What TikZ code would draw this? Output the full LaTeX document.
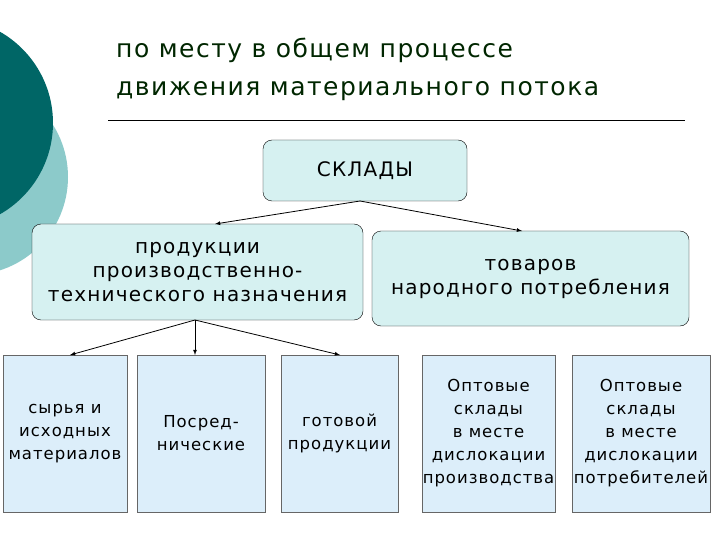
\documentclass[tikz,border=0pt]{standalone}
\usepackage{fontspec}
\setmainfont{DejaVu Sans}[LetterSpace=6]
\definecolor{rfill}{HTML}{D6F1F1}
\definecolor{sfill}{HTML}{DCEEFA}
\definecolor{lcirc}{HTML}{8CCACA}
\definecolor{dcirc}{HTML}{006666}
\begin{document}
\begin{tikzpicture}[x=1pt,y=-1pt,
 rbox/.style={draw=black,fill=rfill,rounded corners=9pt,align=center,font=\fontsize{20}{24}\selectfont},
 sbox/.style={draw=black!60,fill=sfill,align=center,font=\fontsize{16.5}{23}\selectfont},
 arr/.style={-latex,thick}]
\useasboundingbox (0,0) rectangle (720,540);
\fill[lcirc] (-30,177) circle (98);
\fill[dcirc] (-52,123) circle (105);
\node[anchor=north west,align=left,font=\fontsize{25}{38}\selectfont,text=black!85!green,inner sep=0] (t) at (116,38) {по месту в общем процессе\\движения материального потока};
\draw (108,120) -- (685,120);
\node[rbox,minimum width=204,minimum height=61] (s) at (365,170.5) {СКЛАДЫ};
\node[rbox,minimum width=331,minimum height=96,inner sep=1] (a) at (197.5,272) {продукции\\производственно-\\технического назначения};
\node[rbox,minimum width=317,minimum height=95,inner sep=1] (b) at (530.5,278.5) {товаров\\народного потребления};
\node[sbox,minimum width=124,minimum height=157,inner sep=0] (c1) at (65,433.5) {сырья и\\исходных\\материалов};
\node[sbox,minimum width=128,minimum height=157,inner sep=0] (c2) at (201,433.5) {Посред-\\нические};
\node[sbox,minimum width=117,minimum height=157,inner sep=0] (c3) at (339.5,433.5) {готовой\\продукции};
\node[sbox,minimum width=133,minimum height=157,inner sep=0] (c4) at (488.5,433.5) {Оптовые\\склады\\в месте\\дислокации\\производства};
\node[sbox,minimum width=138,minimum height=157,inner sep=0] (c5) at (641,433.5) {Оптовые\\склады\\в месте\\дислокации\\потребителей};
\coordinate (s0) at (360,201);
\coordinate (a0) at (195,320);
\draw[arr] (s0) -- (215,224);
\draw[arr] (s0) -- (522,231);
\draw[arr] (a0) -- (70,355);
\draw[arr] (a0) -- (195,355);
\draw[arr] (a0) -- (340,355);
\end{tikzpicture}
\end{document}
